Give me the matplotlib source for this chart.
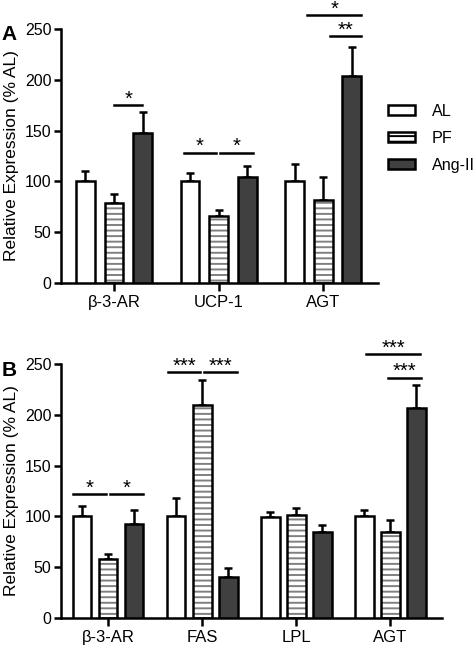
import matplotlib
matplotlib.use("Agg")
import matplotlib.pyplot as plt
from matplotlib.patches import Patch
import numpy as np

plt.rcParams['font.family'] = ['Liberation Sans', 'DejaVu Sans']
plt.rcParams['hatch.color'] = '#808080'
plt.rcParams['hatch.linewidth'] = 1.4

groups_names = ['AL', 'PF', 'Ang-II']
fills = ['white', 'white', '#404040']
hatches = [None, '---', None]

# panel A
genes_a = ['\u03b2-3-AR', 'UCP-1', 'AGT']
mean_a = {'AL': [100, 100, 100], 'PF': [79, 66, 82], 'Ang-II': [148, 104, 204]}
err_a = {'AL': [10.5, 8.5, 17.5], 'PF': [9, 6, 22.5], 'Ang-II': [20, 11, 28]}
# significance: (gene index, x start, x end (relative to gene), height, label)
sig_a = [(0, 0.0, 0.27, 175, '*'),
         (1, -0.335, -0.02, 128, '*'),
         (1, 0.01, 0.33, 128, '*'),
         (2, -0.15, 0.36, 263.5, '*'),
         (2, 0.07, 0.36, 243, '**')]

# panel B
genes_b = ['\u03b2-3-AR', 'FAS', 'LPL', 'AGT']
mean_b = {'AL': [100, 100, 99, 100], 'PF': [58, 210, 101.5, 84.5], 'Ang-II': [93, 40, 85, 207]}
err_b = {'AL': [10, 18.5, 5, 6], 'PF': [4.5, 24, 6.5, 12], 'Ang-II': [13.5, 9, 6.5, 22]}
sig_b = [(0, -0.37, -0.02, 122, '*'),
         (0, 0.02, 0.37, 122, '*'),
         (1, -0.36, -0.02, 242, '***'),
         (1, 0.02, 0.37, 242, '***'),
         (3, -0.26, 0.32, 259.5, '***'),
         (3, -0.02, 0.33, 236.5, '***')]


def draw_panel(ax, genes, means, errs, sigs, offset, width):
    x = np.arange(len(genes))
    for k, g in enumerate(groups_names):
        xs = x + (k - 1) * offset
        if hatches[k]:
            ax.bar(xs, means[g], width, color='white', edgecolor='#808080',
                   hatch=hatches[k], linewidth=0, zorder=2)
            ax.bar(xs, means[g], width, fill=False, edgecolor='black',
                   linewidth=1.8, zorder=3)
        else:
            ax.bar(xs, means[g], width, color=fills[k], edgecolor='black',
                   linewidth=1.8, zorder=3)
        ax.errorbar(xs, means[g], yerr=[np.zeros(len(genes)), errs[g]],
                    fmt='none', ecolor='black', elinewidth=1.8, capsize=3.2,
                    capthick=1.8, zorder=1)
    for gi, x0, x1, h, lab in sigs:
        ax.plot([gi + x0, gi + x1], [h, h], color='black', lw=1.8,
                clip_on=False)
        ax.annotate(lab, (gi + (x0 + x1) / 2, h), xytext=(0, 0.5),
                    textcoords='offset points', ha='center', va='baseline',
                    fontsize=14.5, annotation_clip=False)
    ax.set_ylim(0, 250)
    ax.set_yticks([0, 50, 100, 150, 200, 250])
    ax.set_xticks(x)
    ax.set_xticklabels(genes, fontsize=12)
    ax.tick_params(axis='y', labelsize=11.5, width=1.8, length=5, direction='out', pad=2)
    ax.tick_params(axis='x', width=1.8, length=6, direction='out', pad=3)
    for s in ['top', 'right']:
        ax.spines[s].set_visible(False)
    for s in ['left', 'bottom']:
        ax.spines[s].set_linewidth(1.8)
    ax.set_ylabel('Relative Expression (% AL)', fontsize=12.5, labelpad=4)


fig = plt.figure(figsize=(4.75, 6.48), dpi=100)

axA = fig.add_axes([0.1284, 0.5633, 0.6676, 0.392])
draw_panel(axA, genes_a, mean_a, err_a, sig_a, 0.273, 0.18)
axA.set_xlim(-0.507, 2.526)

axB = fig.add_axes([0.1284, 0.0463, 0.8021, 0.392])
draw_panel(axB, genes_b, mean_b, err_b, sig_b, 0.277, 0.2)
axB.set_xlim(-0.5, 3.55)

fig.text(0.004, 0.946, 'A', fontsize=15, fontweight='bold', va='center')
fig.text(0.004, 0.429, 'B', fontsize=15, fontweight='bold', va='center')

handles = [Patch(facecolor='white', edgecolor='black', linewidth=1.8),
           Patch(facecolor='white', edgecolor='black', linewidth=1.8, hatch='---'),
           Patch(facecolor='#404040', edgecolor='black', linewidth=1.8)]
fig.legend(handles, groups_names, loc='upper left', bbox_to_anchor=(0.817, 0.84),
           frameon=False, fontsize=11.6, handlelength=1.7, handleheight=0.6,
           handletextpad=1.0, labelspacing=0.75, borderaxespad=0, borderpad=0)

fig.savefig('out.png', dpi=100)
